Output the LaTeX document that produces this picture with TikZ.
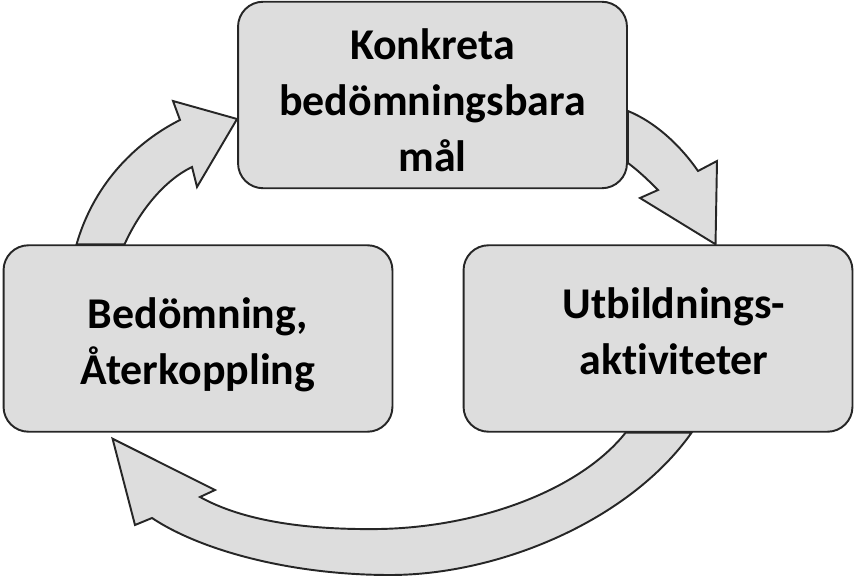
\documentclass[tikz,border=0pt]{standalone}
\usepackage{fontspec}
\setmainfont{Carlito}[Ligatures={TeX,NoCommon}]
\usetikzlibrary{positioning,backgrounds}
\definecolor{boxgrey}{RGB}{221,221,221}
\definecolor{edgedark}{RGB}{38,38,38}

\begin{document}
\begin{tikzpicture}[x=0.02cm,y=-0.02cm,
  txt/.style={font=\fontsize{25}{32}\selectfont\bfseries,align=center},
  stage/.style={draw=edgedark,line width=1.1pt,fill=boxgrey,rounded corners=0.5cm,
    minimum width=7.78cm,minimum height=3.73cm,inner sep=0pt},
  cyc/.style={draw=edgedark,line width=1.1pt,fill=boxgrey,line join=miter}]
  \useasboundingbox (0,0) rectangle (854,580);
  \node[stage,label={[txt,yshift=-0.1cm]center:Konkreta\\bedömningsbara\\mål}] (mal) at (432.5,95) {};
  \node[stage,label={[txt,yshift=-0.12cm]center:Bedömning,\\Återkoppling}] (bed) at (198,338.5) {};
  \node[stage,label={[txt,xshift=0.32cm,yshift=0.14cm]center:Utbildnings-\\aktiviteter}] (akt) at (658,338.5) {};
  \begin{scope}[on background layer]
    % bed -> mal
    \draw[cyc] ([xshift=1.48cm]bed.north west) .. controls (95,180) and (140,140) .. (180,120)
      -- (173,101) -- ([yshift=-0.48cm]mal.west) -- (197,187) -- (192,167)
      .. controls (165,180) and (140,210) .. ([xshift=2.44cm]bed.north west) -- cycle;
    % mal -> akt
    \draw[cyc] ([yshift=-0.32cm]mal.east) .. controls (655,122) and (680,145) .. (698,171)
      -- (717,161) -- ([xshift=5.06cm]akt.north west) -- (640,198) -- (658,190)
      .. controls (650,182) and (640,172) .. ([yshift=-1.36cm]mal.east) -- cycle;
    % akt -> bed
    \draw[cyc] ([xshift=4.58cm]akt.south west) .. controls (630,520) and (500,575) .. (390,575)
      .. controls (290,575) and (200,550) .. (152,518)
      -- (135,525) -- ([xshift=2.2cm,yshift=-0.12cm]bed.south west) -- (215,490) -- (200,497)
      .. controls (245,522) and (310,530) .. (380,529)
      .. controls (480,527) and (580,490) .. ([xshift=3.26cm]akt.south west) -- cycle;
  \end{scope}
\end{tikzpicture}
\end{document}
